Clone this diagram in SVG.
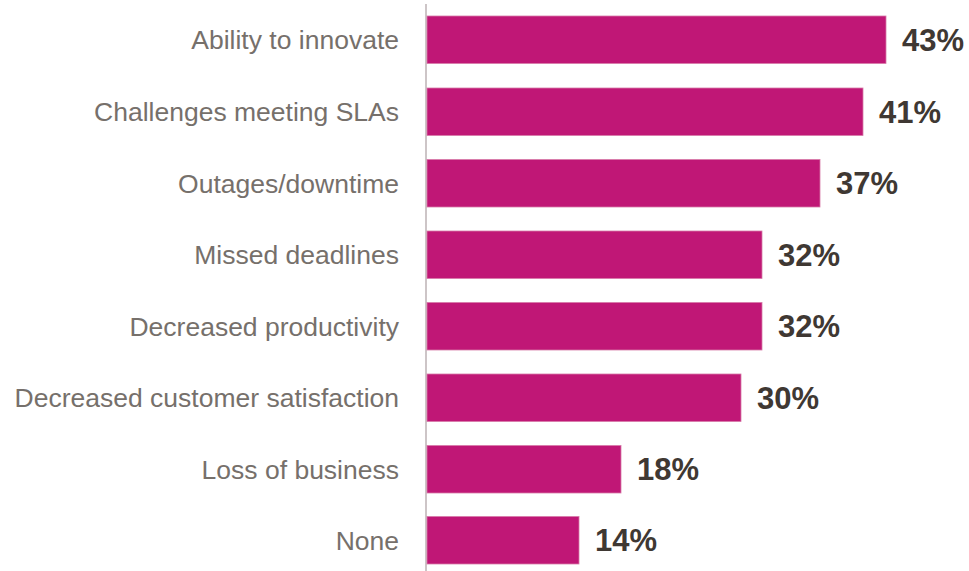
<svg xmlns="http://www.w3.org/2000/svg" width="969" height="571" viewBox="0 0 969 571">
<style>
.bar{fill:#c01776;stroke:#d77aa9;stroke-width:0.8}
.cat{font-family:"Liberation Sans",Arial,sans-serif;font-size:26.5px;fill:#76706b;text-anchor:end}
.val{font-family:"Liberation Sans",Arial,sans-serif;font-size:31px;font-weight:bold;fill:#3f3833}
</style>
<rect width="969" height="571" fill="#ffffff"/>
<g id="axis"><line x1="426" y1="4" x2="426" y2="571" stroke="#cdc5c7" stroke-width="2"/></g>
<g id="row1"><rect class="bar" x="427" y="16" width="459" height="47.5"/><text class="cat" x="399" y="49">Ability to innovate</text><text class="val" x="902" y="51">43%</text></g>
<g id="row2"><rect class="bar" x="427" y="88" width="436" height="47.5"/><text class="cat" x="399" y="121">Challenges meeting SLAs</text><text class="val" x="879" y="122.5">41%</text></g>
<g id="row3"><rect class="bar" x="427" y="159.5" width="393" height="47.5"/><text class="cat" x="399" y="192.5">Outages/downtime</text><text class="val" x="836" y="194">37%</text></g>
<g id="row4"><rect class="bar" x="427" y="231" width="335" height="47.5"/><text class="cat" x="399" y="264">Missed deadlines</text><text class="val" x="778" y="265.5">32%</text></g>
<g id="row5"><rect class="bar" x="427" y="302.5" width="335" height="47.5"/><text class="cat" x="399" y="335.5">Decreased productivity</text><text class="val" x="778" y="337">32%</text></g>
<g id="row6"><rect class="bar" x="427" y="374" width="314" height="47.5"/><text class="cat" x="399" y="407">Decreased customer satisfaction</text><text class="val" x="757" y="408.5">30%</text></g>
<g id="row7"><rect class="bar" x="427" y="445.5" width="194" height="47.5"/><text class="cat" x="399" y="478.5">Loss of business</text><text class="val" x="637" y="480">18%</text></g>
<g id="row8"><rect class="bar" x="427" y="516.5" width="152" height="47.5"/><text class="cat" x="399" y="549.5">None</text><text class="val" x="595" y="551">14%</text></g>
</svg>
